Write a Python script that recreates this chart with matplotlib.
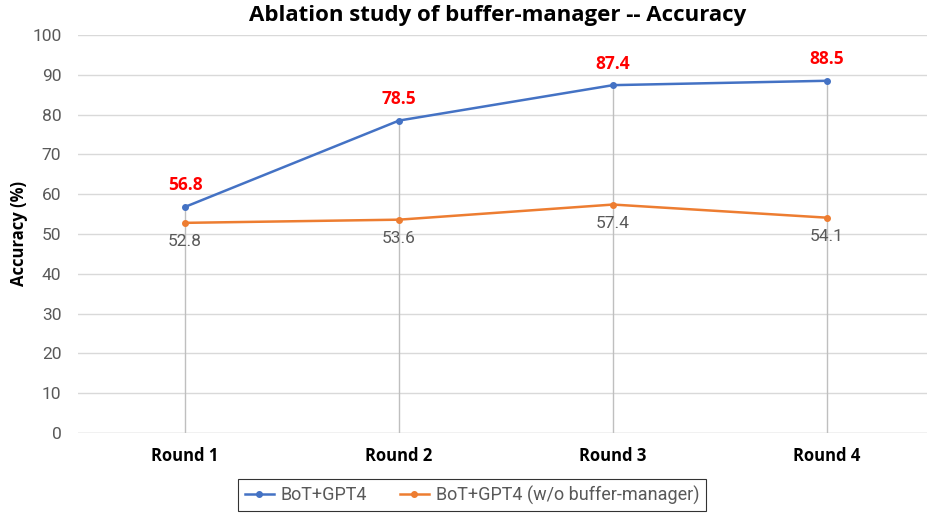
import matplotlib
matplotlib.use("Agg")
import matplotlib.pyplot as plt

categories = ["Round 1", "Round 2", "Round 3", "Round 4"]
bot_gpt4 = [56.8, 78.5, 87.4, 88.5]
bot_gpt4_wo = [52.8, 53.6, 57.4, 54.1]
yticks = [0, 10, 20, 30, 40, 50, 60, 70, 80, 90, 100]

plt.rcParams['font.family'] = ['Roboto', 'DejaVu Sans']
BOLD = ['Open Sans', 'DejaVu Sans']

W, H = 928, 515
fig = plt.figure(figsize=(W/100, H/100), dpi=100)
ax = fig.add_axes([78/W, 1-433/H, (928-78)/W, (433-35)/H])

x = list(range(len(categories)))
ax.set_ylim(0, 100)
ax.set_xlim(-0.5, 3 + (928-827)/214)
ax.set_yticks(yticks)
ax.set_yticklabels([str(v) for v in yticks], color='#595959', fontsize=12.5)
ax.yaxis.grid(True, color='#d9d9d9', linewidth=1)
ax.set_axisbelow(True)
ax.tick_params(axis='y', length=0, pad=12)
ax.tick_params(axis='x', length=0, pad=10)
for s in ax.spines.values():
    s.set_visible(False)
ax.axhline(0, color='#d9d9d9', linewidth=1, zorder=1)

ax.vlines(x, 0, bot_gpt4, color='#bfbfbf', linewidth=1, zorder=2)

l1, = ax.plot(x, bot_gpt4, color='#4472C4', linewidth=1.8, marker='o', markersize=4, label='BoT+GPT4', zorder=4)
l2, = ax.plot(x, bot_gpt4_wo, color='#ED7D31', linewidth=1.8, marker='o', markersize=4, label='BoT+GPT4 (w/o buffer-manager)', zorder=3)

for xi, v in zip(x, bot_gpt4):
    ax.annotate(f"{v}", (xi, v), xytext=(0, 9), textcoords='offset points', ha='center', va='bottom',
                color='#FF0000', fontsize=12.5, fontweight='bold', family=BOLD)
for xi, v in zip(x, bot_gpt4_wo):
    ax.annotate(f"{v}", (xi, v), xytext=(0, -8), textcoords='offset points', ha='center', va='top',
                color='#595959', fontsize=12.5)

ax.set_xticks(x)
ax.set_xticklabels(categories, fontsize=12, fontweight='bold', color='#000000', family=BOLD)
ax.set_ylabel('Accuracy (%)', fontsize=12, fontweight='bold', labelpad=3, family=BOLD)

fig.text(498/W, 1-15/H, 'Ablation study of buffer-manager -- Accuracy', ha='center', va='center',
         fontsize=16, fontweight='bold', family=BOLD)

leg = fig.legend(handles=[l1, l2], loc='center', bbox_to_anchor=(472/W, 1-495/H), ncol=2,
                 frameon=True, fancybox=False, edgecolor='#000000', fontsize=13,
                 handlelength=1.6, columnspacing=1.8, handletextpad=0.4, borderpad=0.35)
leg.get_frame().set_linewidth(0.8)
for t in leg.get_texts():
    t.set_color('#595959')

fig.savefig('out.png', dpi=100)
